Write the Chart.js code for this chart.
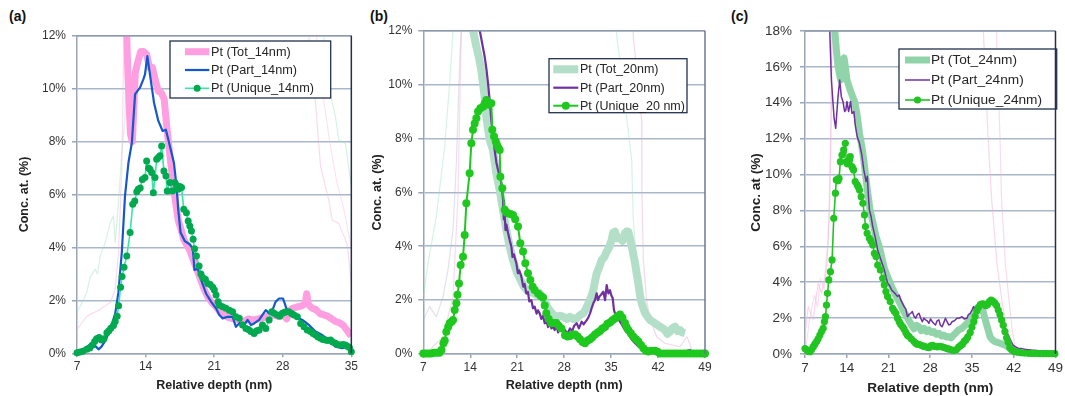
<!DOCTYPE html>
<html><head><meta charset="utf-8">
<script src="https://cdn.jsdelivr.net/npm/chart.js@4.4.1/dist/chart.umd.min.js"></script>
<style>
html,body{margin:0;padding:0;background:#fff;width:1065px;height:396px;overflow:hidden;font-family:"Liberation Sans",Arial,sans-serif}
canvas{position:absolute;top:0}
.lab{position:absolute;font-weight:bold;font-size:14px;color:#111}
</style></head><body>
<div class="lab" style="left:9px;top:8px">(a)</div>
<div class="lab" style="left:370px;top:8px">(b)</div>
<div class="lab" style="left:731px;top:8px">(c)</div>
<canvas id="ca" width="360" height="396" style="left:0"></canvas>
<canvas id="cb" width="360" height="396" style="left:360px"></canvas>
<canvas id="cc" width="345" height="396" style="left:720px"></canvas>
<script>
// ---------- Panel (a) data: [depth nm, conc %] ----------
const A_X_TICKS = [7,14,21,28,35];
const A_TOT = [[11.95,13.5],[12.2,10.5],[12.45,8.3],[12.65,8.0],[12.95,10.6],[13.2,11.0],[13.5,11.4],[13.8,11.4],[14.1,11.3],[14.4,10.8],[14.7,10.8],[15.0,10.3],[15.3,9.9],[15.6,9.85],[15.9,9.6],[16.1,8.8],[16.35,7.9],[16.6,7.1],[16.85,6.3],[17.1,5.6],[17.35,5.0],[17.6,4.7],[17.9,4.3],[18.2,4.1],[18.5,3.9],[18.8,3.6],[19.1,3.3],[19.4,3.0],[19.7,2.7],[20.0,2.4],[20.4,2.1],[20.8,1.9],[21.2,1.75],[21.6,1.55],[22.0,1.45],[22.5,1.35],[23.0,1.3],[23.5,1.25],[24.0,1.2],[24.5,1.3],[25.0,1.25],[25.5,1.3],[26.0,1.35],[26.5,1.4],[27.0,1.45],[27.5,1.4],[28.0,1.5],[28.4,1.3],[28.7,1.6],[29.0,1.7],[29.5,1.75],[30.0,1.8],[30.3,1.9],[30.45,2.25],[30.6,1.85],[31.0,1.7],[31.4,1.65],[31.8,1.5],[32.2,1.45],[32.6,1.4],[33.0,1.3],[33.4,1.2],[33.8,1.15],[34.2,1.05],[34.6,0.85],[35.0,0.65]];
const A_PART = [[7,0.02],[7.6,0.15],[8.35,0.34],[8.8,0.3],[9.2,0.15],[9.5,0.25],[9.88,0.47],[10.39,0.9],[10.9,1.5],[11.23,2.3],[11.57,3.8],[11.9,5.95],[12.25,7.2],[12.6,7.96],[12.93,9.79],[13.43,10.04],[13.77,10.35],[13.94,10.54],[14.18,11.23],[14.52,10.35],[14.86,9.47],[15.3,8.78],[15.74,8.4],[16.07,8.45],[16.48,7.83],[16.89,7.2],[17.16,6.32],[17.33,5.44],[17.57,4.56],[18.0,4.24],[18.5,4.12],[18.82,3.96],[18.99,3.15],[19.33,3.2],[19.67,2.77],[20.17,2.26],[20.68,1.95],[21.19,1.7],[21.53,1.45],[21.87,1.32],[22.37,1.38],[22.88,1.38],[23.22,1.0],[23.73,1.19],[24.07,1.07],[24.41,1.26],[24.75,1.07],[25.08,1.13],[25.59,1.26],[25.93,1.45],[26.27,1.63],[26.61,1.51],[26.95,1.63],[27.28,1.95],[27.62,2.07],[28.03,2.07],[28.37,1.7],[28.64,1.51],[29.32,1.38],[30.0,1.26],[30.67,1.07],[31.35,0.82],[32.03,0.69],[32.7,0.5],[33.38,0.25],[34.06,0.19],[34.57,0.25],[35,0.06]];
const A_UNI = [[7.0,0.02],[7.3,0.05],[7.6,0.08],[8.0,0.15],[8.3,0.2],[8.55,0.3],[8.8,0.45],[9.0,0.55],[9.25,0.6],[9.5,0.5],[9.75,0.55],[10.05,0.78],[10.25,0.85],[10.45,0.95],[10.72,1.05],[10.9,1.2],[11.1,1.4],[11.25,1.8],[11.45,2.5],[11.6,2.9],[11.8,3.25],[12.08,3.68],[12.42,4.56],[12.69,5.63],[12.9,5.75],[13.1,6.1],[13.25,6.2],[13.45,6.25],[13.67,6.57],[13.94,6.64],[14.11,7.27],[14.3,7.0],[14.45,6.95],[14.62,6.83],[14.79,6.07],[14.96,6.64],[15.13,7.33],[15.3,7.4],[15.47,7.46],[15.64,7.83],[15.87,6.89],[16.08,6.7],[16.21,6.13],[16.48,6.45],[16.75,6.13],[16.99,6.45],[17.15,6.35],[17.33,6.2],[17.5,6.3],[17.67,6.26],[17.9,5.44],[18.17,5.31],[18.35,5.0],[18.51,4.81],[18.68,4.62],[18.85,4.31],[19.0,3.95],[19.19,3.68],[19.46,3.3],[19.65,3.0],[19.85,2.85],[20.1,2.8],[20.34,2.64],[20.6,2.6],[20.85,2.5],[21.02,2.39],[21.19,2.2],[21.4,1.95],[21.53,1.82],[21.87,1.76],[22.2,1.7],[22.54,1.63],[22.88,1.57],[23.22,1.38],[23.56,1.32],[23.9,1.07],[24.24,0.94],[24.5,0.9],[24.75,0.82],[25.08,0.75],[25.35,0.85],[25.59,0.88],[25.93,1.07],[26.27,0.94],[26.61,1.26],[26.88,1.57],[27.12,1.51],[27.45,1.45],[27.7,1.4],[27.96,1.51],[28.2,1.55],[28.37,1.57],[28.64,1.57],[28.9,1.5],[29.15,1.45],[29.49,1.38],[29.83,1.13],[30.17,1.0],[30.5,0.88],[30.84,0.82],[31.1,0.75],[31.35,0.69],[31.6,0.62],[31.86,0.57],[32.1,0.52],[32.37,0.5],[32.6,0.48],[32.87,0.5],[33.1,0.43],[33.38,0.38],[33.6,0.33],[33.89,0.31],[34.15,0.33],[34.4,0.31],[34.6,0.27],[34.8,0.22],[35,0.06]];
const A_GHOST_PINK_L = [[7,0.9],[8,1.4],[9.37,1.66],[10.39,1.92],[10.9,2.42],[11.23,3.8],[11.57,6.95],[11.74,10.73],[11.9,13]];
const A_GHOST_GREEN_L = [[7,1.54],[7.68,2.04],[8.0,2.3],[8.35,2.9],[8.86,3.17],[9.1,3.0],[9.37,3.68],[9.88,4.18],[10.39,4.94],[10.72,5.19],[10.9,4.18],[11.23,5.69],[11.57,7.58],[11.9,8.84],[12.08,13]];
const A_GHOST_PINK_R = [[30.5,13],[30.67,12],[31.35,9.44],[31.86,7.05],[32.7,5.8],[33.04,5.04],[33.72,4.9],[34.56,4.15],[35,2.65]];
const A_GHOST_PINK_R2 = [[31.3,13],[31.6,11],[32.2,9.5],[32.8,8.0],[33.5,6.5],[34.2,5.5],[35,4.0]];
const A_GHOST_GREEN_R = [[32.0,13],[32.2,12],[32.7,10.07],[33.38,8.94],[33.72,8.06],[34.4,7.93],[35,6.3]];

// ---------- Panel (b) data ----------
const B_X_TICKS = [7,14,21,28,35,42,49];
const B_TOT = [[14.2,13.5],[14.41,12.03],[14.91,11.41],[15.3,11.0],[15.65,10.54],[16.15,9.55],[16.4,8.8],[16.9,7.95],[17.39,7.57],[17.89,6.71],[18.39,6.09],[18.88,5.35],[19.38,4.6],[19.88,3.99],[20.37,3.49],[21.0,3.0],[21.5,2.75],[22.0,2.5],[22.5,2.35],[23.0,2.3],[23.5,2.25],[23.85,2.2],[24.4,2.25],[24.85,2.05],[25.15,1.95],[25.5,1.75],[25.89,1.6],[26.4,1.45],[26.89,1.38],[27.4,1.42],[27.88,1.38],[28.4,1.3],[28.87,1.38],[29.4,1.3],[29.87,1.32],[30.4,1.45],[30.86,1.51],[31.2,1.65],[31.61,1.88],[32.0,2.1],[32.35,2.37],[32.6,2.7],[32.85,2.99],[33.2,3.2],[33.6,3.49],[34.0,3.6],[34.34,3.8],[34.7,3.95],[35.09,4.23],[35.3,4.5],[35.58,4.54],[35.9,4.3],[36.33,4.3],[36.7,4.2],[37.07,4.48],[37.3,4.55],[37.57,4.54],[37.8,4.3],[38.07,3.99],[38.3,3.7],[38.57,3.37],[38.8,3.0],[39.06,2.62],[39.3,2.2],[39.56,1.88],[40.06,1.51],[40.4,1.4],[40.8,1.26],[41.2,1.2],[41.55,1.14],[42.29,1.01],[42.7,0.95],[43.04,0.89],[43.4,0.75],[43.78,0.83],[44.1,0.95],[44.53,1.01],[44.9,0.85],[45.27,0.89],[45.6,0.8],[46.02,0.77]];
const B_PART = [[15.2,13.5],[15.4,12.03],[15.8,11.5],[16.15,11.04],[16.4,10.6],[16.65,10.05],[16.9,9.4],[17.14,8.69],[17.4,8.1],[17.64,7.57],[17.9,7.1],[18.14,6.83],[18.4,6.6],[18.64,6.34],[18.9,5.7],[19.0,5.0],[19.13,5.22],[19.25,4.6],[19.4,4.8],[19.63,4.5],[19.9,4.2],[20.13,3.99],[20.3,3.6],[20.5,3.7],[20.87,3.37],[21.1,3.0],[21.3,3.1],[21.62,2.87],[21.9,2.5],[22.1,2.6],[22.36,2.25],[22.6,2.3],[22.8,1.95],[23.11,2.0],[23.35,1.7],[23.6,1.76],[23.9,1.5],[24.1,1.62],[24.35,1.51],[24.6,1.3],[24.85,1.42],[25.1,1.14],[25.4,1.2],[25.6,1.0],[25.84,1.1],[26.1,0.95],[26.4,1.01],[26.59,0.89],[26.9,1.05],[27.1,0.8],[27.38,1.07],[27.7,0.85],[28.13,0.89],[28.5,0.75],[28.87,0.95],[29.2,0.85],[29.5,1.05],[29.87,1.14],[30.2,0.95],[30.61,1.2],[30.9,1.1],[31.36,1.26],[31.6,1.35],[31.86,1.51],[32.1,1.7],[32.35,1.88],[32.6,2.0],[32.85,2.25],[33.05,2.0],[33.25,2.13],[33.5,2.2],[33.84,2.31],[34.1,2.0],[34.34,2.56],[34.59,2.25],[34.84,2.37],[35.0,2.2],[35.24,2.07],[35.43,1.63],[35.83,1.32],[36.1,1.3],[36.33,1.2],[36.7,1.05],[37.07,0.89],[37.4,0.8],[37.82,0.64],[38.2,0.5],[38.57,0.4],[39.0,0.3],[39.31,0.27],[40.06,0.15],[40.8,0.09],[42,0.05],[44,0.05],[46,0.1],[46.8,0.15],[47.2,0.05]];
const B_UNI = [[7.0,0.02],[7.4,0.02],[7.8,0.02],[8.2,0.02],[8.6,0.05],[9.0,0.05],[9.4,0.05],[9.7,0.15],[10.0,0.4],[10.2,0.5],[10.43,0.83],[10.7,1.0],[10.93,1.14],[11.2,1.2],[11.43,1.26],[11.68,1.63],[11.93,1.88],[12.1,2.2],[12.32,2.62],[12.57,3.3],[12.92,3.61],[13.17,4.42],[13.42,5.6],[13.91,6.71],[14.16,7.82],[14.41,8.32],[14.66,8.56],[14.91,8.75],[15.16,9.0],[15.5,9.12],[15.9,9.18],[16.15,9.3],[16.4,9.43],[16.6,9.35],[16.75,9.25],[17.0,9.3],[17.14,9.31],[17.29,8.32],[17.54,8.07],[17.8,7.9],[17.99,7.76],[18.2,7.65],[18.39,7.57],[18.49,6.58],[18.78,6.15],[19.13,5.35],[19.4,5.25],[19.63,5.22],[20.0,5.2],[20.37,5.16],[20.7,5.0],[21.12,4.73],[21.47,4.11],[21.87,3.8],[22.21,3.37],[22.61,3.0],[22.96,2.75],[23.3,2.5],[23.6,2.38],[24.1,2.25],[24.5,2.15],[24.85,2.1],[25.1,1.8],[25.34,1.51],[25.7,1.3],[26.09,1.14],[26.5,1.15],[26.83,1.15],[27.2,1.05],[27.6,0.95],[28.13,0.7],[28.5,0.65],[28.87,0.67],[29.25,0.72],[29.62,0.72],[30.0,0.65],[30.36,0.55],[30.75,0.45],[31.11,0.4],[31.5,0.5],[31.86,0.55],[32.2,0.62],[32.6,0.72],[33.0,0.8],[33.35,0.85],[33.7,0.95],[34.09,1.0],[34.45,1.12],[34.84,1.17],[35.2,1.25],[35.58,1.32],[35.95,1.4],[36.33,1.47],[36.7,1.35],[37.07,1.15],[37.3,1.0],[37.57,0.89],[37.95,0.77],[38.32,0.64],[38.7,0.55],[39.06,0.46],[39.45,0.33],[39.81,0.21],[40.2,0.12],[40.55,0.09],[41.0,0.12],[41.55,0.12],[41.9,0.08],[42.29,0.02],[42.8,0.02],[43.3,0.02],[43.8,0.02],[44.3,0.02],[44.8,0.02],[45.3,0.02],[45.8,0.02],[46.3,0.02],[46.8,0.02],[47.3,0.02],[47.8,0.02],[48.3,0.02],[48.8,0.02],[49,0.02]];
const B_GHOST_GREEN_L = [[7,2.13],[7.7,3.37],[8.94,5.1],[10.19,7.7],[10.93,10.05],[11.43,12],[11.6,13]];
const B_GHOST_LAV_L = [[7,1.26],[7.95,1.76],[8.94,1.38],[9.94,2.13],[10.68,3.12],[11.43,4.6],[11.93,7.08],[12.42,10.8],[12.67,12],[12.8,13]];
const B_GHOST_PINK_L = [[7.95,0.15],[9.94,0.64],[11.43,2.13],[12.17,5.84],[12.67,12],[12.8,13]];
const B_GHOST_GREEN_R = [[35.6,13],[35.84,11.8],[36.8,9.9],[38.07,7.2],[38.3,5.0],[38.8,3.5],[39.5,2.2],[40.5,1.2]];
const B_GHOST_PINK_R = [[38.1,13],[38.3,11.8],[39.56,8.66],[39.6,6.0],[39.8,3.5],[40.3,2.0],[40.8,1.3],[41.8,0.64],[43,0.4],[45.27,0.27],[46.3,0.64],[47,0.2]];

// ---------- Panel (c) data ----------
const C_X_TICKS = [7,14,21,28,35,42,49];
const C_TOT = [[11.8,19.5],[11.99,18.06],[12.26,16.94],[12.54,16.02],[12.98,15.27],[13.2,15.8],[13.37,16.39],[13.55,16.5],[13.76,16.02],[14.04,15.27],[14.48,14.81],[14.87,14.44],[15.31,14.07],[15.7,13.41],[15.9,12.9],[16.14,12.3],[16.53,11.56],[16.86,10.81],[17.25,9.7],[17.53,8.96],[17.91,8.03],[18.36,7.38],[18.91,6.54],[19.47,5.98],[19.85,5.43],[20.3,4.78],[20.85,4.31],[21.52,3.76],[22.24,3.25],[22.79,2.9],[23.62,2.35],[24.45,1.85],[25.28,1.4],[25.7,1.6],[26.11,1.52],[26.5,1.3],[26.95,1.43],[27.4,1.25],[27.78,1.34],[28.2,1.2],[28.61,1.25],[29.0,1.1],[29.44,1.15],[29.9,1.0],[30.27,1.06],[30.7,0.95],[31.1,0.97],[31.5,0.9],[31.93,1.06],[32.35,1.2],[32.76,1.34],[33.2,1.4],[33.59,1.52],[34.0,1.65],[34.42,1.8],[34.85,2.0],[35.26,2.17],[35.55,2.35],[35.81,2.55],[36.1,2.6],[36.37,2.64],[36.55,2.65],[36.75,2.55],[37.08,2.08],[37.47,1.62],[37.75,1.3],[38.02,0.97],[38.4,0.8],[38.86,0.69],[39.25,0.65],[39.69,0.6],[40.1,0.55],[40.52,0.5],[41.0,0.4],[41.35,0.32],[41.8,0.22],[42.18,0.22]];
const C_PART = [[11.0,19.5],[11.15,18.06],[11.3,16.5],[11.43,15.27],[11.65,14.2],[11.88,13.14],[12.15,12.58],[12.35,13.5],[12.54,14.34],[12.82,15.27],[13.09,14.34],[13.37,14.07],[13.65,13.51],[13.85,13.6],[14.04,14.07],[14.31,13.51],[14.65,14.07],[14.87,13.41],[15.2,13.51],[15.42,12.77],[15.75,12.12],[16.14,11.74],[16.53,11.09],[16.86,10.26],[17.25,9.61],[17.45,9.9],[17.64,8.77],[17.8,8.03],[18.08,7.66],[18.36,7.1],[18.75,6.54],[19.19,5.8],[19.74,5.24],[20.3,4.69],[20.85,3.94],[21.2,3.8],[21.52,3.57],[22.07,3.38],[22.51,3.2],[22.79,3.29],[23.07,3.0],[23.34,2.82],[23.62,2.64],[23.9,2.5],[24.17,2.08],[24.45,2.2],[24.73,2.27],[25.0,2.36],[25.28,2.1],[25.56,1.99],[25.84,2.2],[26.11,2.27],[26.4,2.0],[26.67,1.8],[26.95,2.0],[27.22,1.9],[27.5,1.85],[27.78,1.71],[28.05,1.95],[28.33,1.8],[28.6,1.7],[28.88,1.62],[29.15,1.85],[29.44,1.9],[29.7,1.6],[29.99,1.52],[30.27,1.75],[30.55,1.99],[30.82,1.8],[31.1,1.62],[31.38,1.65],[31.65,1.8],[32.05,1.85],[32.49,1.99],[32.9,2.0],[33.32,2.08],[33.7,1.95],[34.15,1.99],[34.4,2.2],[34.7,2.27],[35.0,2.45],[35.26,2.64],[35.45,2.5],[35.64,2.45],[35.85,2.6],[36.09,2.73],[36.5,2.78],[36.92,2.82],[37.3,2.9],[37.75,3.01],[38.15,2.95],[38.58,2.82],[39.0,2.6],[39.41,2.36],[39.8,2.1],[40.24,1.8],[40.65,1.4],[41.07,1.06],[41.5,0.75],[41.9,0.5],[42.3,0.4],[42.73,0.32],[43.3,0.3],[43.84,0.26],[44.4,0.24],[44.95,0.22],[45.8,0.2],[46.6,0.17],[47.7,0.15],[48.83,0.13]];
const C_UNI = [[7.0,0.3],[7.28,0.23],[7.55,0.15],[7.83,0.13],[8.1,0.25],[8.39,0.41],[8.65,0.55],[8.94,0.69],[9.2,0.85],[9.49,1.06],[9.77,1.25],[10.05,1.43],[10.25,1.8],[10.43,2.08],[10.6,2.73],[10.77,3.38],[10.99,4.13],[11.27,4.59],[11.54,5.24],[11.82,7.56],[12.1,8.96],[12.25,9.7],[12.37,9.7],[12.55,9.65],[12.71,9.79],[12.93,10.72],[13.2,11.09],[13.48,11.37],[13.76,11.74],[13.93,10.72],[14.1,10.6],[14.31,10.63],[14.45,10.8],[14.59,11.0],[14.87,10.44],[15.0,10.35],[15.14,10.26],[15.42,9.61],[15.75,9.42],[15.95,9.3],[16.14,9.14],[16.42,8.77],[16.7,8.4],[16.97,7.75],[17.14,7.1],[17.42,6.73],[17.8,6.45],[18.05,6.3],[18.36,6.08],[18.63,5.61],[18.91,5.43],[19.19,4.96],[19.63,4.68],[20.02,4.22],[20.3,3.85],[20.57,3.48],[20.85,3.2],[21.29,2.92],[21.68,2.55],[21.95,2.4],[22.24,2.27],[22.5,2.0],[22.79,1.8],[23.05,1.65],[23.34,1.53],[23.6,1.4],[23.9,1.2],[24.17,1.05],[24.45,0.97],[24.85,0.83],[25.28,0.69],[25.56,0.6],[25.84,0.55],[26.2,0.52],[26.6,0.47],[27.0,0.42],[27.4,0.38],[27.78,0.35],[28.1,0.45],[28.4,0.48],[28.8,0.42],[29.2,0.4],[29.6,0.42],[29.99,0.4],[30.4,0.35],[30.8,0.3],[31.2,0.27],[31.65,0.22],[32.0,0.2],[32.4,0.25],[32.76,0.38],[33.1,0.48],[33.4,0.55],[33.7,0.7],[34.0,0.8],[34.3,0.95],[34.7,1.2],[35.0,1.5],[35.3,1.8],[35.53,2.1],[35.8,2.4],[36.09,2.6],[36.4,2.75],[36.7,2.8],[37.0,2.78],[37.3,2.7],[37.6,2.75],[37.9,2.9],[38.2,3.0],[38.5,2.95],[38.85,2.83],[39.13,2.7],[39.41,2.45],[39.69,2.2],[39.96,1.9],[40.24,1.6],[40.52,1.25],[40.8,0.9],[41.07,0.65],[41.35,0.35],[41.63,0.25],[42.0,0.15],[42.4,0.12],[42.8,0.1],[43.29,0.07],[43.8,0.05],[44.4,0.04],[44.9,0.03],[45.4,0.03],[45.9,0.03],[46.4,0.02],[46.9,0.02],[47.4,0.02],[47.9,0.02],[48.4,0.02],[48.9,0.02]];
const C_GHOST_PINK_L = [[7,1.15],[7.55,2.64],[8.38,1.9],[8.8,3.0],[9.22,3.94],[9.77,3.38],[10.33,4.31],[10.88,6.35],[11.15,8.58],[11.4,13],[11.6,19]];
const C_GHOST_PINK_L2 = [[7.2,0.5],[7.8,2.0],[8.6,3.3],[9.1,2.6],[9.6,4.2],[10.2,3.6],[10.7,5.0],[11.0,7.5],[11.3,12],[11.5,19]];
const C_GHOST_PINK_R = [[36.7,19],[36.9,18],[37.7,12],[38.3,8.58],[39.2,5],[40.0,3],[41.0,1.2],[41.6,0.4],[43,0.2],[44,0.1]];
const C_GHOST_PINK_R2 = [[38.9,19],[39.1,18],[39.7,12],[39.96,8.58],[40.6,5],[41.2,3],[41.8,1.2],[42.3,0.3],[43.5,0.15]];

const FONT = '"Liberation Sans", Arial, sans-serif';

const legendPlugin = {
  id: 'panelLegend',
  afterDatasetsDraw(chart) {
    const o = chart.options.plugins.panelLegend;
    if (!o) return;
    const ctx = chart.ctx;
    const [x1, y1, x2, y2] = o.box;
    ctx.save();
    ctx.fillStyle = '#fff';
    ctx.fillRect(x1, y1, x2 - x1, y2 - y1);
    ctx.strokeStyle = '#23324f';
    ctx.lineWidth = 1.3;
    ctx.strokeRect(x1, y1, x2 - x1, y2 - y1);
    const items = chart.data.datasets.filter(d => d.inLegend);
    items.forEach((d, i) => {
      const y = o.rows[i];
      ctx.strokeStyle = d.borderColor;
      ctx.lineWidth = d.borderWidth;
      ctx.lineCap = 'butt';
      ctx.beginPath(); ctx.moveTo(o.line[0], y); ctx.lineTo(o.line[1], y); ctx.stroke();
      if (d.pointRadius > 0) {
        ctx.fillStyle = d.pointBackgroundColor;
        ctx.beginPath(); ctx.arc((o.line[0] + o.line[1]) / 2, y, d.pointRadius, 0, Math.PI * 2); ctx.fill();
      }
      ctx.fillStyle = '#262626';
      ctx.font = o.fontSize + 'px ' + FONT;
      ctx.textBaseline = 'middle';
      ctx.textAlign = 'left';
      ctx.fillText(d.label, o.text, y + 0.5);
    });
    ctx.restore();
  }
};

const framePlugin = {
  id: 'frame',
  afterDatasetsDraw(chart) {
    const o = chart.options.plugins.frame;
    const a = chart.chartArea, ctx = chart.ctx;
    ctx.save();
    ctx.lineWidth = 1.5;
    ctx.strokeStyle = o.top;
    ctx.beginPath(); ctx.moveTo(a.left, a.top); ctx.lineTo(a.right, a.top); ctx.stroke();
    ctx.strokeStyle = o.right;
    ctx.beginPath(); ctx.moveTo(a.right, a.top); ctx.lineTo(a.right, a.bottom); ctx.stroke();
    ctx.restore();
  }
};

function ghost(data, color) {
  return {label: 'ghost', data, borderColor: color, borderWidth: 1.2, pointRadius: 0, order: 10, clip: 0};
}

function makePanel(id, cfg) {
  const datasets = [
    {label: cfg.names[0], inLegend: true, data: cfg.tot, borderColor: cfg.totColor, borderWidth: cfg.totWidth, pointRadius: 0, order: 3, clip: 0},
    {label: cfg.names[1], inLegend: true, data: cfg.part, borderColor: cfg.partColor, borderWidth: cfg.partWidth, pointRadius: 0, order: 2, clip: 0},
    {label: cfg.names[2], inLegend: true, data: cfg.uni, borderColor: cfg.uniColor, borderWidth: cfg.uniWidth,
      pointRadius: cfg.dotR, pointBackgroundColor: cfg.dotColor, pointBorderWidth: 0, order: 1,
      clip: {left: 6, right: 6, top: 0, bottom: 6}}
  ].concat(cfg.ghosts.map(g => ghost(g[0], g[1])));
  const fs = cfg.fontSize;
  new Chart(document.getElementById(id), {
    type: 'line',
    data: {datasets},
    plugins: [legendPlugin, framePlugin],
    options: {
      responsive: false, animation: false, devicePixelRatio: 1,
      layout: {padding: {left: 0, top: cfg.padTop, right: cfg.padRight, bottom: 0}},
      elements: {line: {tension: 0, borderJoinStyle: 'round'}},
      plugins: {legend: {display: false}, tooltip: {enabled: false},
        panelLegend: cfg.legend, frame: cfg.frame},
      scales: {
        x: {type: 'linear', min: cfg.xTicks[0], max: cfg.xTicks[cfg.xTicks.length - 1],
          afterBuildTicks: s => { s.ticks = cfg.xTicks.map(v => ({value: v})); },
          afterFit: s => { s.height = cfg.xH; },
          grid: {drawOnChartArea: false, drawTicks: true, tickLength: 4, color: '#9aa5b5', lineWidth: 1.5},
          border: {display: true, color: '#9aa5b5', width: 1.5},
          ticks: {font: {family: FONT, size: fs}, color: '#333', padding: 2, maxRotation: 0, autoSkip: false},
          title: {display: true, text: 'Relative depth (nm)', font: {family: FONT, size: cfg.titleSize, weight: 'bold'}, color: '#222', padding: {top: 0, bottom: cfg.xTitlePad}}
        },
        y: {type: 'linear', min: 0, max: cfg.yMax,
          ticks: {stepSize: 2, font: {family: FONT, size: fs}, color: '#333', padding: cfg.yTickPad, callback: v => v + '%'},
          afterFit: s => { s.width = cfg.yW; },
          grid: {color: '#a9b7cb', lineWidth: 1.5, tickLength: 5, tickColor: '#9aa5b5'},
          border: {display: true, color: '#9aa5b5', width: 1.5},
          title: {display: true, text: cfg.yTitle, font: {family: FONT, size: cfg.titleSize, weight: 'bold'}, color: '#222', padding: {top: cfg.yTitlePad, bottom: 0}}
        }
      }
    }
  });
}

makePanel('ca', {
  names: ['Pt (Tot_14nm)', 'Pt (Part_14nm)', 'Pt (Unique_14nm)'],
  tot: A_TOT, part: A_PART, uni: A_UNI, xTicks: A_X_TICKS, yMax: 12,
  totColor: '#ff9ee0', totWidth: 7, partColor: '#1358cc', partWidth: 2.2,
  uniColor: '#36e8a4', uniWidth: 1.6, dotR: 3.5, dotColor: '#00a84f',
  ghosts: [[A_GHOST_PINK_L, 'rgba(245,175,215,0.45)'], [A_GHOST_GREEN_L, 'rgba(150,225,185,0.4)'],
           [A_GHOST_PINK_R, 'rgba(245,175,215,0.45)'], [A_GHOST_PINK_R2, 'rgba(245,175,215,0.35)'],
           [A_GHOST_GREEN_R, 'rgba(150,225,185,0.4)']],
  fontSize: 12, titleSize: 12.5, yTitle: 'Conc. at. (%)',
  padTop: 35.7, padRight: 7.4, xH: 42.7, yW: 77, xTitlePad: 2.5, yTitlePad: 17, yTickPad: 6,
  legend: {box: [170, 41, 330.7, 98], rows: [51.7, 70, 88.3], line: [185, 209.3], text: 211, fontSize: 12.7},
  frame: {top: '#8d99ad', right: '#22304f'}
});
makePanel('cb', {
  names: ['Pt (Tot_20nm)', 'Pt (Part_20nm)', 'Pt (Unique_20 nm)'],
  tot: B_TOT, part: B_PART, uni: B_UNI, xTicks: B_X_TICKS, yMax: 12,
  totColor: '#b3dfc8', totWidth: 8, partColor: '#7030a0', partWidth: 2.2,
  uniColor: '#1ec81e', uniWidth: 2, dotR: 4, dotColor: '#1ec81e',
  ghosts: [[B_GHOST_GREEN_L, 'rgba(150,225,185,0.4)'], [B_GHOST_LAV_L, 'rgba(170,170,210,0.35)'],
           [B_GHOST_PINK_L, 'rgba(245,175,215,0.45)'], [B_GHOST_GREEN_R, 'rgba(150,225,185,0.4)'],
           [B_GHOST_PINK_R, 'rgba(220,170,210,0.45)']],
  fontSize: 12, titleSize: 12.6, yTitle: 'Conc. at. (%)',
  padTop: 30.7, padRight: 15, xH: 42, yW: 63.3, xTitlePad: 2.5, yTitlePad: 9.5, yTickPad: 6,
  legend: {box: [189, 58.7, 327, 112.7], rows: [69.3, 87.7, 105.7], line: [193.3, 218.3], text: 220, fontSize: 12.5},
  frame: {top: '#8d99ad', right: '#6a7a95'}
});
makePanel('cc', {
  names: ['Pt (Tot_24nm)', 'Pt (Part_24nm)', 'Pt (Unique_24nm)'],
  tot: C_TOT, part: C_PART, uni: C_UNI, xTicks: C_X_TICKS, yMax: 18,
  totColor: '#92d4aa', totWidth: 7, partColor: '#7030a0', partWidth: 1.5,
  uniColor: '#22c422', uniWidth: 1.6, dotR: 3.6, dotColor: '#22c422',
  ghosts: [[C_GHOST_PINK_L, 'rgba(245,175,215,0.5)'], [C_GHOST_PINK_L2, 'rgba(245,175,215,0.4)'],
           [C_GHOST_PINK_R, 'rgba(245,175,215,0.5)'], [C_GHOST_PINK_R2, 'rgba(245,175,215,0.45)']],
  fontSize: 13.5, titleSize: 13.6, yTitle: 'Conc. at (%)',
  padTop: 31, padRight: 7.3, xH: 42, yW: 85, xTitlePad: 0, yTitlePad: 28, yTickPad: 8,
  legend: {box: [179, 49, 336.7, 109], rows: [60, 80, 100], line: [185, 210], text: 211, fontSize: 13.7},
  frame: {top: '#8d99ad', right: '#22304f'}
});
</script>
</body></html>
